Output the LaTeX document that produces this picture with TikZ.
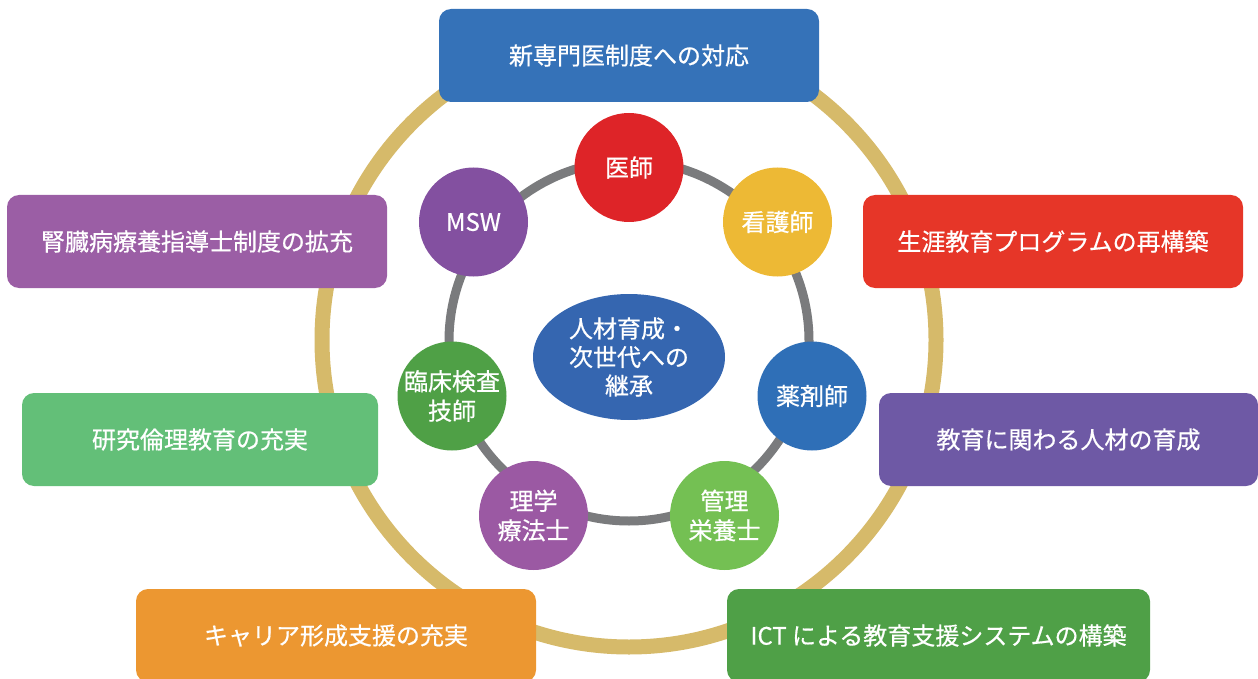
\documentclass[tikz,border=0pt]{standalone}
\usepackage{fontspec}
\setmainfont{Noto Sans CJK JP}[FakeBold=0.6]
\usetikzlibrary{shapes.geometric}
\definecolor{cTopBlue}{HTML}{3572B8}
\definecolor{cRed}{HTML}{DE2428}
\definecolor{cYellow}{HTML}{EDB935}
\definecolor{cMSW}{HTML}{8350A0}
\definecolor{cLabGreen}{HTML}{4FA046}
\definecolor{cPharm}{HTML}{2F6FB7}
\definecolor{cPT}{HTML}{9B59A3}
\definecolor{cDiet}{HTML}{74C053}
\definecolor{cCenter}{HTML}{3566B0}
\definecolor{cGold}{HTML}{D6BA6A}
\definecolor{cGray}{HTML}{7A7B7D}
\definecolor{cKidney}{HTML}{9B5EA5}
\definecolor{cLife}{HTML}{E63628}
\definecolor{cEthic}{HTML}{63BF78}
\definecolor{cEdu}{HTML}{6E59A5}
\definecolor{cCareer}{HTML}{EC9731}
\definecolor{cICT}{HTML}{4FA047}
\tikzset{
  txt/.style={text=white, font=\fontsize{24}{29.5}\selectfont, align=center},
  topicbox/.style={txt, rounded corners=12pt, minimum height=93pt, inner sep=0pt},
  role/.style={txt, circle, minimum size=109pt, inner sep=0pt},
}
\begin{document}
\begin{tikzpicture}[x=1pt,y=-1pt]
\useasboundingbox (0,0) rectangle (1258,679);
% outer gold ring
\draw[cGold, line width=15pt] (629,340) circle[radius=307pt];
% topic boxes
\node[topicbox, fill=cTopBlue, minimum width=380pt] (top) at (629,55.5) {新専門医制度への対応};
\node[topicbox, fill=cKidney, minimum width=380pt] (kidney) at (197,241.5) {腎臓病療養指導士制度の拡充};
\node[topicbox, fill=cLife, minimum width=380pt] (life) at (1053,241.5) {生涯教育プログラムの再構築};
\node[topicbox, fill=cEthic, minimum width=356pt] (ethic) at (200,439.5) {研究倫理教育の充実};
\node[topicbox, fill=cEdu, minimum width=379pt] (edu) at (1068.5,439.5) {教育に関わる人材の育成};
\node[topicbox, fill=cCareer, minimum width=400pt] (career) at (336,635.5) {キャリア形成支援の充実};
\node[topicbox, fill=cICT, minimum width=423pt] (ict) at (938.5,635.5) {ICT による教育支援システムの構築};
% inner gray ring
\draw[cGray, line width=9pt] (629,341) circle[radius=180pt];
% role circles
\node[role, fill=cRed] (doctor) at (629,167.5) {医師};
\node[role, fill=cMSW] (msw) at (473.5,222) {MSW};
\node[role, fill=cYellow] (nurse) at (777.5,222) {看護師};
\node[role, fill=cLabGreen] (lab) at (452,396) {臨床検査\\技師};
\node[role, fill=cPharm] (pharm) at (812,396) {薬剤師};
\node[role, fill=cPT] (pt) at (533.5,515.5) {理学\\療法士};
\node[role, fill=cDiet] (diet) at (724.5,515.5) {管理\\栄養士};
% center ellipse
\node[txt, ellipse, fill=cCenter, minimum width=192pt, minimum height=126pt, inner sep=0pt,
      font=\fontsize{24}{28.5}\selectfont] (center) at (629,357) {人材育成・\\次世代への\\継承};
\end{tikzpicture}
\end{document}
